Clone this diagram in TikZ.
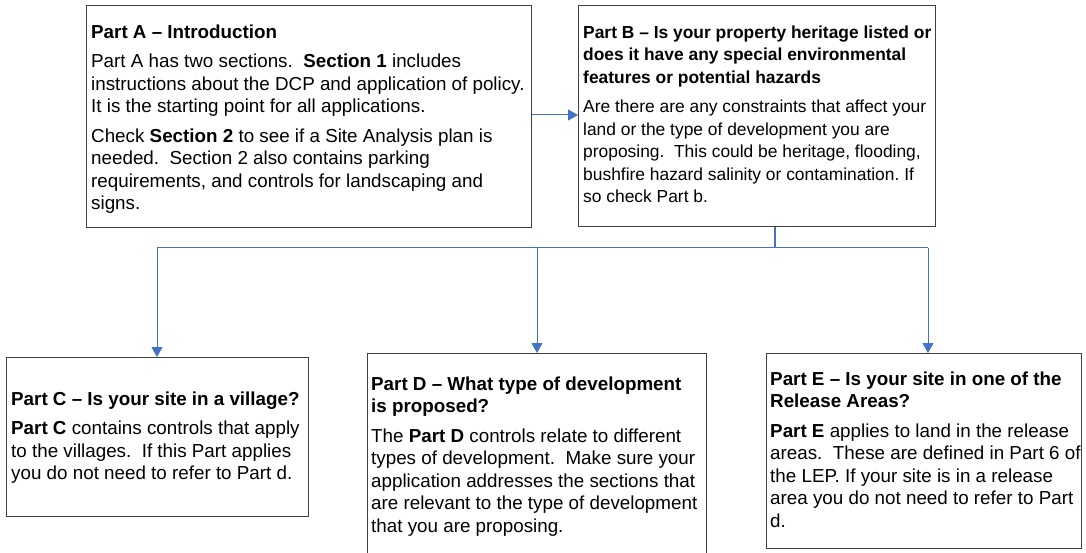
\documentclass[tikz,border=0pt]{standalone}
\usepackage{fontspec}
\setmainfont{Liberation Sans}
\usetikzlibrary{arrows.meta}
\definecolor{linkblue}{HTML}{4472C4}
\definecolor{boxline}{HTML}{404040}
\frenchspacing
\begin{document}
\begin{tikzpicture}[x=1pt,y=-1pt,
  panel/.style={draw=boxline, line width=1.1pt, fill=white, rectangle, inner sep=0pt, anchor=north west},
  body/.style={anchor=north west, inner sep=0pt, align=left, font=\fontsize{18.8}{22.5}\selectfont},
  smallbody/.style={body, font=\fontsize{17.4}{22.5}\selectfont},
  link/.style={draw=linkblue, line width=1pt},
  linkarrow/.style={link, -{Triangle[length=10pt,width=11pt]}}]
\useasboundingbox (0,0) rectangle (1086,553);
\clip (0,0) rectangle (1086,553);

% frames
\node[panel, minimum width=445pt, minimum height=222pt] (A) at (86,5) {};
\node[panel, minimum width=357pt, minimum height=221pt] (B) at (578,5) {};
\node[panel, minimum width=302pt, minimum height=159pt] (C) at (6,357) {};
\node[panel, minimum width=339pt, minimum height=217pt] (D) at (367,353) {};
\node[panel, minimum width=315pt, minimum height=195pt] (E) at (766,353) {};

% texts: the strut on the first line puts its baseline 15.75pt below the anchor
\node[body] (tA) at (91,22.55) {\strut\textbf{Part A – Introduction}\\[7pt]
Part A has two sections.~ \textbf{Section 1} includes\\
instructions about the DCP and application of policy.\\
It is the starting point for all applications.\\[7pt]
Check \textbf{Section 2} to see if a Site Analysis plan is\\
needed.~ Section 2 also contains parking\\
requirements, and controls for landscaping and\\
signs.};

\node[smallbody] (tB) at (583,22.55) {\strut\textbf{Part B – Is your property heritage listed or}\\
\textbf{does it have any special environmental}\\
\textbf{features or potential hazards}\\[7pt]
Are there are any constraints that affect your\\
land or the type of development you are\\
proposing.~ This could be heritage, flooding,\\
bushfire hazard salinity or contamination. If\\
so check Part b.};

\node[body] (tC) at (11,389.25) {\strut\textbf{Part C – Is your site in a village?}\\[7pt]
\textbf{Part C} contains controls that apply\\
to the villages.~ If this Part applies\\
you do not need to refer to Part d.};

\node[body] (tD) at (371,374.25) {\strut\textbf{Part D – What type of development}\\
\textbf{is proposed?}\\[7pt]
The \textbf{Part D} controls relate to different\\
types of development.~ Make sure your\\
application addresses the sections that\\
are relevant to the type of development\\
that you are proposing.};

\node[body] (tE) at (770,369.25) {\strut\textbf{Part E – Is your site in one of the}\\
\textbf{Release Areas?}\\[7pt]
\textbf{Part E} applies to land in the release\\
areas.~ These are defined in Part 6 of\\
the LEP. If your site is in a release\\
area you do not need to refer to Part\\
d.};

% connectors
\coordinate (bus) at (775,248);
\coordinate (toC) at (157,248);
\coordinate (toD) at (537,248);
\coordinate (toE) at (928,248);
\draw[linkarrow] (A.east |- 0,115) -- (B.west |- 0,115);
\draw[link, line width=1.3pt] (B.south -| bus) -- (bus);
\draw[link] (toC) -- (toE);
\draw[linkarrow] (toC) -- (toC |- C.north);
\draw[linkarrow] (toD) -- (toD |- D.north);
\draw[linkarrow] (toE) -- (toE |- E.north);
\end{tikzpicture}
\end{document}
